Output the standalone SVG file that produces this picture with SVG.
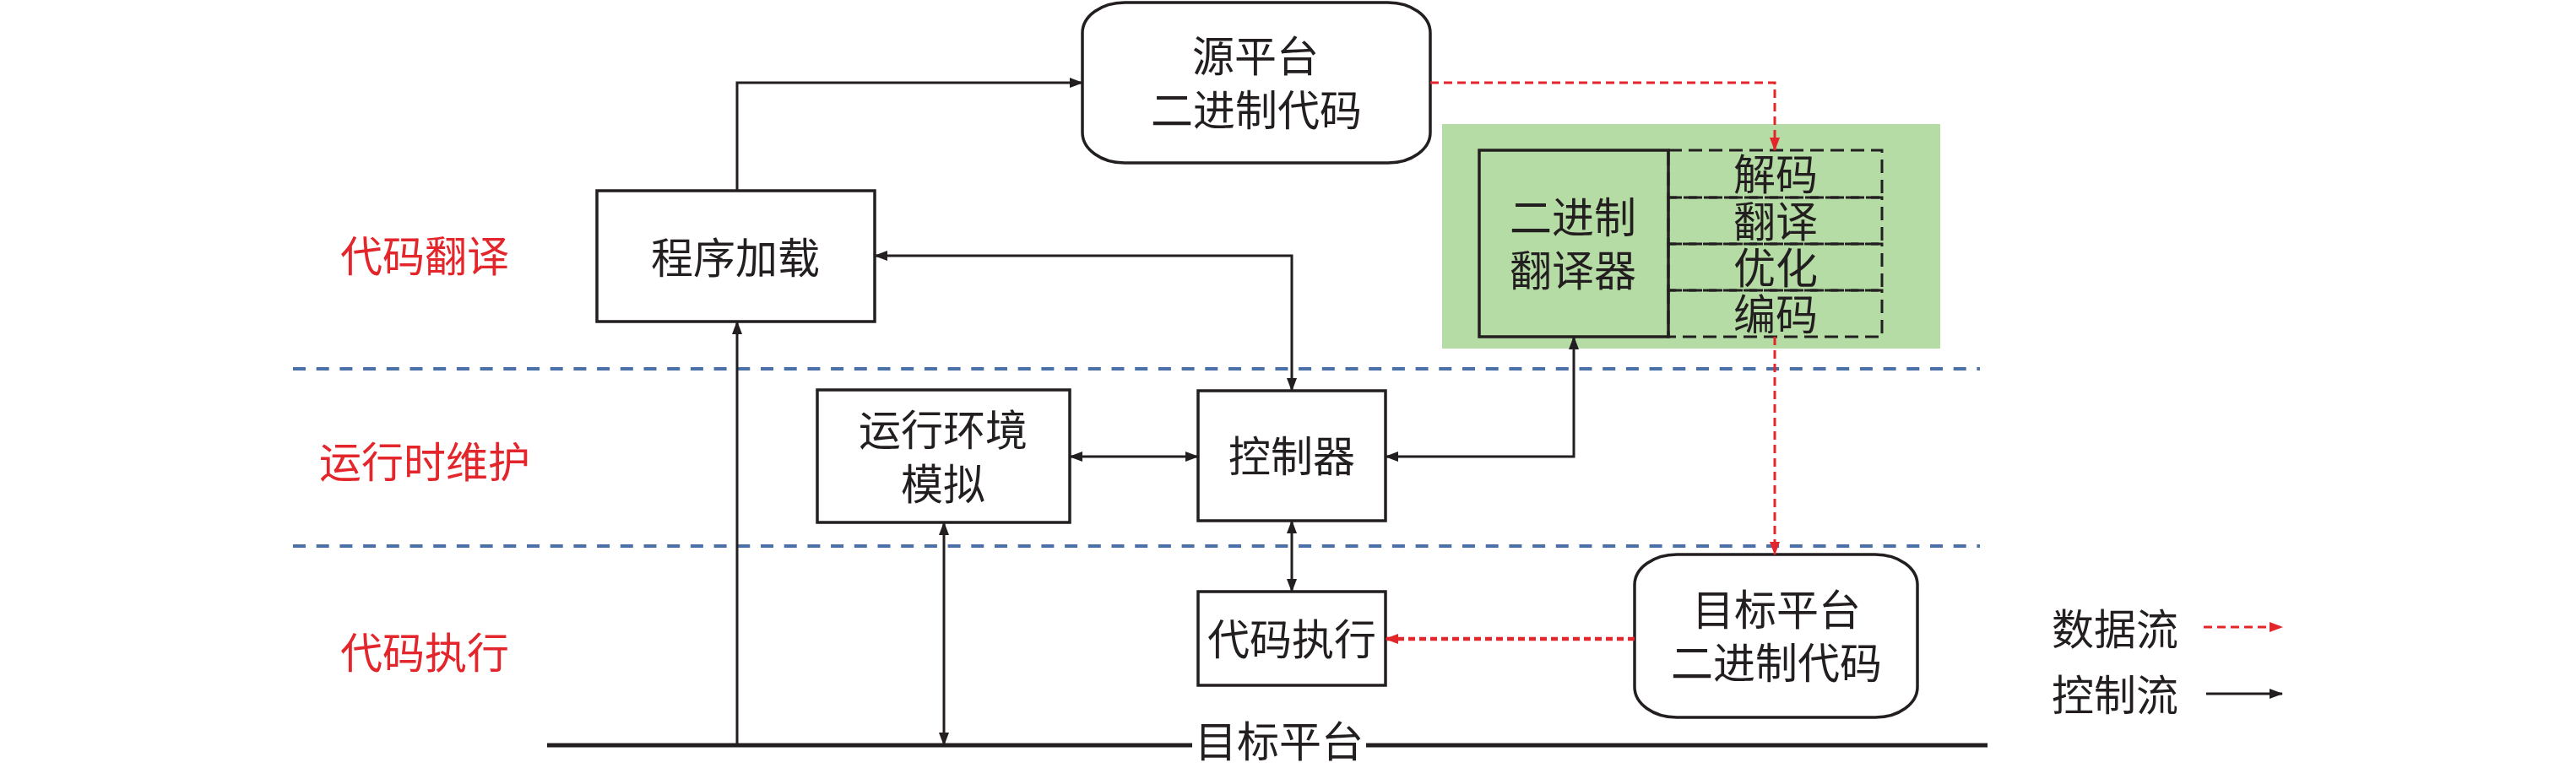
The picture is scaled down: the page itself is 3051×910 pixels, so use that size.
<svg xmlns="http://www.w3.org/2000/svg" width="3051" height="910" viewBox="0 0 3051 910">
<defs>
<marker id="ab" viewBox="0 0 16 12" refX="15" refY="6" markerWidth="16" markerHeight="12" markerUnits="userSpaceOnUse" orient="auto-start-reverse"><path d="M0,0 L16,6 L0,12 Z" fill="#231f20"/></marker>
<marker id="ar" viewBox="0 0 16 12" refX="15" refY="6" markerWidth="16" markerHeight="12" markerUnits="userSpaceOnUse" orient="auto-start-reverse"><path d="M0,0 L16,6 L0,12 Z" fill="#e3262b"/></marker>
</defs>
<style>
text{font-family:"Noto Sans CJK SC","Noto Sans CJK TC",sans-serif;font-size:50px;fill:#231f20;text-anchor:middle}
.lab{fill:#e3262b}
.box{fill:#fff;stroke:#231f20;stroke-width:3.5}
.solid{fill:none;stroke:#231f20;stroke-width:3.5}
.dbox{fill:none;stroke:#231f20;stroke-width:3;stroke-dasharray:16 8}
.c{fill:none;stroke:#231f20;stroke-width:3}
.r{fill:none;stroke:#e3262b;stroke-width:3;stroke-dasharray:10 6}
.rd{fill:none;stroke:#e3262b;stroke-width:4.5;stroke-dasharray:8 5}
.sep{stroke:#4a70a8;stroke-width:4;stroke-dasharray:15 12.7}
.base{stroke:#231f20;stroke-width:5}
</style>
<rect width="3051" height="910" fill="#fff"/>
<g id="layers">
<line class="sep" x1="347" y1="437" x2="2345" y2="437"/>
<line class="sep" x1="347" y1="647" x2="2345" y2="647"/>
<text class="lab" x="503" y="322">代码翻译</text>
<text class="lab" x="503" y="566">运行时维护</text>
<text class="lab" x="503" y="792">代码执行</text>
</g>
<g id="target-platform">
<line class="base" x1="648" y1="883" x2="1412" y2="883"/>
<line class="base" x1="1618" y1="883" x2="2354" y2="883"/>
<text x="1515" y="897">目标平台</text>
</g>
<g id="src-binary">
<rect class="box" x="1282" y="3" width="412" height="190" rx="50" ry="36"/>
<text x="1487" y="85">源平台</text>
<text x="1488" y="149">二进制代码</text>
</g>
<g id="loader">
<rect class="box" x="707" y="226" width="329" height="155"/>
<text x="871" y="324">程序加载</text>
</g>
<g id="translator">
<rect x="1708" y="147" width="590" height="266" fill="#b5dca4"/>
<rect class="solid" x="1752" y="178" width="224" height="221"/>
<text x="1863" y="276">二进制</text>
<text x="1863" y="339">翻译器</text>
<rect class="dbox" x="1976" y="178" width="253" height="56"/>
<rect class="dbox" x="1976" y="234" width="253" height="55"/>
<rect class="dbox" x="1976" y="289" width="253" height="55"/>
<rect class="dbox" x="1976" y="344" width="253" height="55"/>
<text x="2103" y="225">解码</text>
<text x="2103" y="281">翻译</text>
<text x="2103" y="336">优化</text>
<text x="2103" y="391">编码</text>
</g>
<g id="env-sim">
<rect class="box" x="968" y="462" width="299" height="157"/>
<text x="1117" y="528">运行环境</text>
<text x="1117" y="592">模拟</text>
</g>
<g id="controller">
<rect class="box" x="1419" y="463" width="222" height="154"/>
<text x="1530" y="559">控制器</text>
</g>
<g id="exec">
<rect class="box" x="1419" y="701" width="222" height="111"/>
<text x="1530" y="776">代码执行</text>
</g>
<g id="tgt-binary">
<rect class="box" x="1936" y="657" width="335" height="193" rx="50" ry="36"/>
<text x="2104" y="741">目标平台</text>
<text x="2104" y="804">二进制代码</text>
</g>
<g id="legend">
<text x="2505" y="764">数据流</text>
<text x="2505" y="842">控制流</text>
<line class="r" x1="2610" y1="743" x2="2703" y2="743" marker-end="url(#ar)"/>
<line class="c" x1="2613" y1="822" x2="2703" y2="822" marker-end="url(#ab)"/>
</g>
<g id="connectors">
<path class="c" d="M873,226 V98 H1282" marker-end="url(#ab)"/>
<path class="r" d="M1694,98 H2102 V178" marker-end="url(#ar)"/>
<path class="r" d="M2102,399 V657" marker-end="url(#ar)"/>
<path class="rd" d="M1936,757 H1641" marker-end="url(#ar)"/>
<path class="c" d="M1530,463 V303 H1036" marker-start="url(#ab)" marker-end="url(#ab)"/>
<path class="c" d="M1267,541 H1419" marker-start="url(#ab)" marker-end="url(#ab)"/>
<path class="c" d="M1641,541 H1864 V399" marker-start="url(#ab)" marker-end="url(#ab)"/>
<path class="c" d="M1530,617 V701" marker-start="url(#ab)" marker-end="url(#ab)"/>
<path class="c" d="M1118,619 V883" marker-start="url(#ab)" marker-end="url(#ab)"/>
<path class="c" d="M873,883 V381" marker-end="url(#ab)"/>
</g>
</svg>
